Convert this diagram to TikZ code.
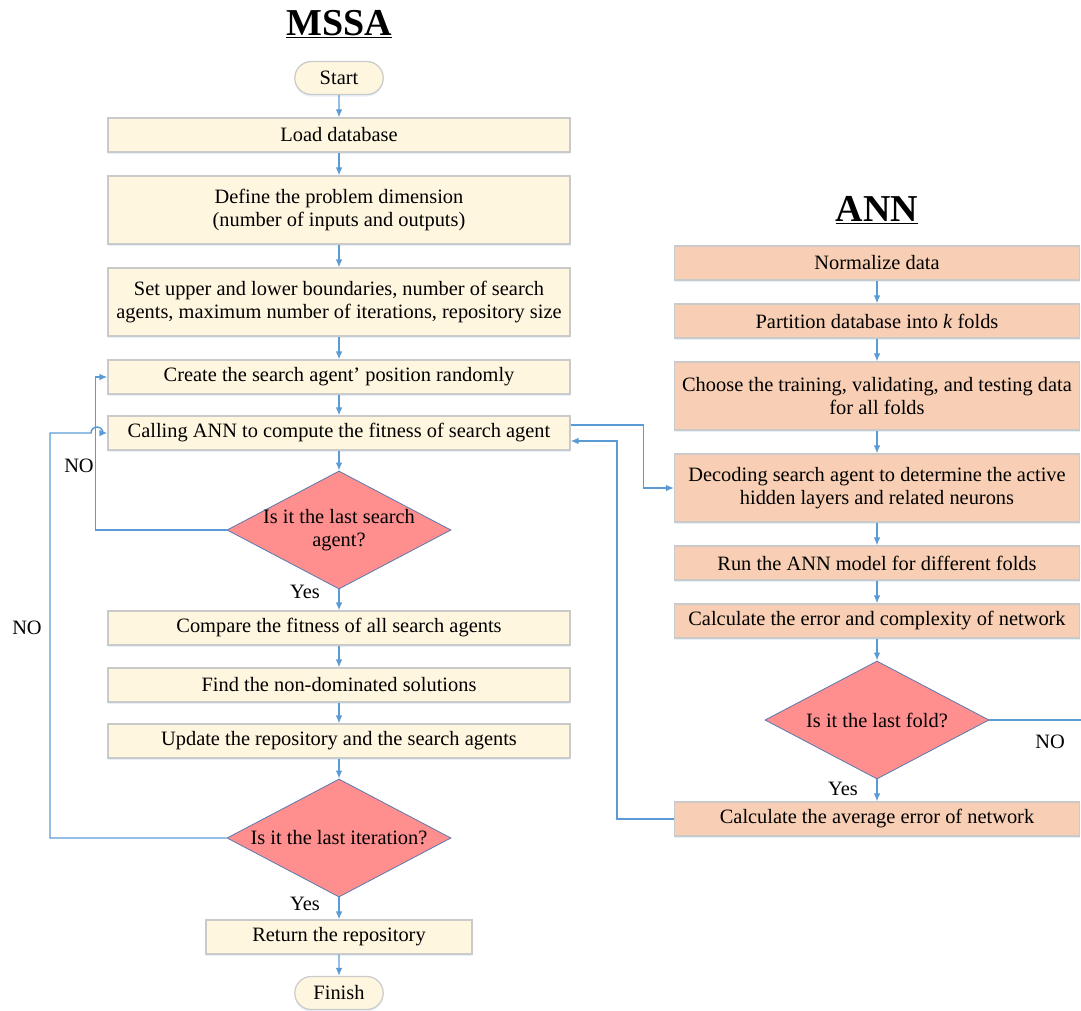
\documentclass[tikz,border=0pt]{standalone}
\usepackage{fontspec}
\setmainfont{Liberation Serif}
\usetikzlibrary{%
	arrows.meta,%
	shapes.geometric,% wg. diamond
	shapes.misc,% wg. rounded rectangle
	positioning,%
	shadows%
}
\definecolor{cream}{HTML}{FFF6E0}
\definecolor{peach}{HTML}{F8CFB4}
\definecolor{salmon}{HTML}{FF8F8F}
\definecolor{linkblue}{HTML}{5B9BD5}
\definecolor{edgegray}{HTML}{CACACA}
\definecolor{diaedge}{HTML}{5A78AE}

\begin{document}
\begin{tikzpicture}[
x=0.75pt,y=-0.75pt,
>={Latex[length=6pt,width=5pt]},
font=\fontsize{15.3}{17.5}\selectfont,
box/.style={rectangle,draw=edgegray,line width=0.9pt,minimum height=25.5pt,
align=center,inner sep=2pt,
drop shadow={shadow xshift=0pt,shadow yshift=-1.5pt,fill=linkblue!30,opacity=.5}},
mssa/.style={box,fill=cream,minimum width=346.5pt},
ann/.style={box,fill=peach,minimum width=303.75pt},
terminal/.style={rounded rectangle,draw=edgegray,line width=0.9pt,fill=cream,
minimum width=73pt,minimum height=24.75pt,
drop shadow={shadow xshift=0pt,shadow yshift=-1.5pt,fill=linkblue!30,opacity=.5}},
decision/.style={diamond,draw=diaedge,fill=salmon,line width=0.6pt,shape aspect=1.9,
inner sep=0pt,minimum width=168pt,minimum height=88.5pt,align=center},
link/.style={->,draw=linkblue,line width=1.1pt},
title/.style={font=\fontsize{28.5}{30}\selectfont\bfseries}
]
\useasboundingbox (0,0) rectangle (1081,1010);
\clip (0,0) rectangle (1081,1010);

% MSSA
\node[title]    (mssatitle) at (339,24)  {\underline{MSSA}};
\node[terminal] (start)     at (339,78)  {Start};
\node[mssa]     (load)      at (339,135) {Load database};
\node[mssa,minimum height=51pt] (dim) at (339,210)
  {Define the problem dimension\\(number of inputs and outputs)};
\node[mssa,minimum height=51pt] (bounds) at (339,302)
  {Set upper and lower boundaries, number of search\\agents, maximum number of iterations, repository size};
\node[mssa]     (create)    at (339,377) {Create the search agent’ position randomly};
\node[mssa]     (calling)   at (339,433) {Calling ANN to compute the fitness of search agent};
\node[decision,inner sep=-2pt] (lastagent) at (339,530) {Is it the last search\\agent?};
\node[mssa]     (compare)   at (339,628) {Compare the fitness of all search agents};
\node[mssa]     (nondom)    at (339,685) {Find the non-dominated solutions};
\node[mssa]     (update)    at (339,741) {Update the repository and the search agents};
\node[decision] (lastiter)  at (339,838) {Is it the last iteration?};
\node[mssa,minimum width=199.5pt] (repo) at (339,937) {Return the repository};
\node[terminal] (finish)    at (339,993) {Finish};

% ANN
\node[title] (anntitle)  at (877,210) {\underline{ANN}};
\node[ann]   (normalize) at (877,263) {Normalize data};
\node[ann]   (partition) at (877,321) {Partition database into \textit{k} folds};
\node[ann,minimum height=51pt] (choose) at (877,396)
  {Choose the training, validating, and testing data\\for all folds};
\node[ann,minimum height=51pt] (decode) at (877,488)
  {Decoding search agent to determine the active\\hidden layers and related neurons};
\node[ann]      (runann)   at (877,563) {Run the ANN model for different folds};
\node[ann]      (error)    at (877,621) {Calculate the error and complexity of network};
\node[decision] (lastfold) at (877,720) {Is it the last fold?};
\node[ann]      (average)  at (877,819) {Calculate the average error of network};

% labels
\node (no1)  at (79,466)   {NO};
\node (no2)  at (27,628)   {NO};
\node (no3)  at (1050,742) {NO};
\node (yes1) at (305,592)  {Yes};
\node (yes2) at (305,904)  {Yes};
\node (yes3) at (843,789)  {Yes};

\foreach \a/\b in {start/load,load/dim,dim/bounds,bounds/create,create/calling,
calling/lastagent,lastagent/compare,compare/nondom,nondom/update,update/lastiter,
lastiter/repo,repo/finish,normalize/partition,partition/choose,choose/decode,
decode/runann,runann/error,error/lastfold,lastfold/average}
  \draw[link] (\a) -- (\b);

\draw[link] (lastagent.west) -| ([xshift=-9pt]create.west) -- (create.west);
\draw[link] (lastiter.west) -- (50,838) |- (91,433)
  arc[start angle=180,end angle=0,radius=4.5pt] -- (calling.west);
\draw[link] ([yshift=6pt]calling.east) -- ++(73,0) |- (decode.west);
\draw[link] (average.west) -- ++(-57,0) |- ([yshift=-6pt]calling.east);
\draw[link] (lastfold.east) -- ++(115,0) |- (runann.east);
\end{tikzpicture}
\end{document}
